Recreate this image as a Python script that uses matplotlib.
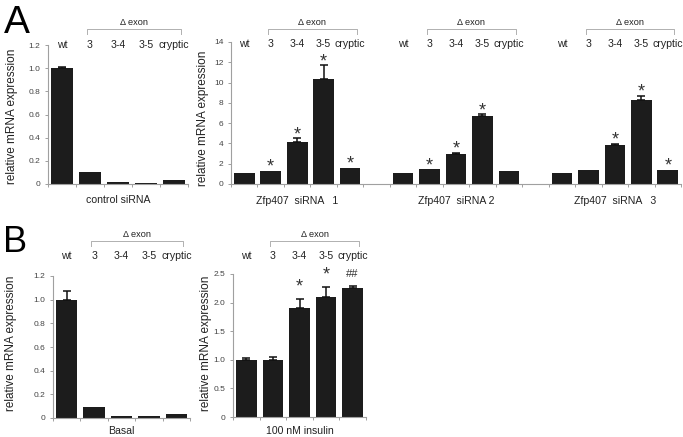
import numpy as np
import matplotlib
matplotlib.use('Agg')
import matplotlib.pyplot as plt
import matplotlib.transforms as mtrans

plt.rcParams['font.family'] = ['Liberation Sans', 'DejaVu Sans']

# figure size in pixels
W, H = 683, 437

# category names
cats = ['wt', '3', '3-4', '3-5', 'cryptic']

# panel A values
ctrl_vals = [1.0, 0.105, 0.015, 0.01, 0.035]
ctrl_err = [0.01, 0, 0, 0, 0]
si1_vals = [1.05, 1.3, 4.15, 10.4, 1.55]
si1_err = [0, 0, 0.35, 1.3, 0]
si2_vals = [1.05, 1.45, 3.0, 6.7, 1.28]
si2_err = [0, 0, 0.1, 0.17, 0]
si3_vals = [1.1, 1.38, 3.8, 8.3, 1.38]
si3_err = [0, 0, 0.17, 0.35, 0]
si1_marks = ['', '*', '*', '*', '*']
si2_marks = ['', '*', '*', '*', '']
si3_marks = ['', '', '*', '*', '*']

# panel B values
basal_vals = [1.0, 0.095, 0.015, 0.015, 0.03]
basal_err = [0.07, 0, 0, 0, 0]
ins_vals = [1.0, 1.0, 1.9, 2.1, 2.25]
ins_err = [0.04, 0.05, 0.16, 0.17, 0.04]
ins_marks = ['', '', '*', '*', '##']

# y ticks
yt_small = [0, 0.2, 0.4, 0.6, 0.8, 1.0, 1.2]
yt_small_lab = ['0', '0.2', '0.4', '0.6', '0.8', '1.0', '1.2']
yt_big = [0, 2, 4, 6, 8, 10, 12, 14]
yt_ins = [0, 0.5, 1.0, 1.5, 2.0, 2.5]
yt_ins_lab = ['0', '0.5', '1.0', '1.5', '2.0', '2.5']

BAR = '#1c1c1c'
AXC = '#a0a0a0'
TXT = '#222222'

fig = plt.figure(figsize=(W / 100, H / 100), dpi=100)


def make_ax(x0, x1, ytop, ybot):
    return fig.add_axes([x0 / W, 1 - ybot / H, (x1 - x0) / W, (ybot - ytop) / H])


def style_ax(ax, nslots, yticks, ylabels, ymax):
    ax.set_xlim(-0.5, nslots - 0.5)
    ax.set_ylim(0, ymax)
    for s in ['top', 'right']:
        ax.spines[s].set_visible(False)
    for s in ['left', 'bottom']:
        ax.spines[s].set_color(AXC)
        ax.spines[s].set_linewidth(0.8)
    ax.set_yticks(yticks)
    ax.set_yticklabels(ylabels)
    ax.set_xticks([])
    ax.set_xticks(np.arange(-0.5, nslots, 1), minor=True)
    ax.tick_params(axis='y', length=2.5, width=0.7, color=AXC, labelsize=6,
                   labelcolor='#444444', pad=3)
    ax.tick_params(axis='x', which='minor', length=2.5, width=0.7, color=AXC)


def draw_group(ax, off, vals, errs, marks, mark_off, hdr_y, br_y, label, lab_y):
    x = np.arange(len(vals)) + off
    ax.bar(x, vals, width=0.78, color=BAR, zorder=2)
    errs = np.array(errs)
    m = errs > 0
    if m.any():
        ax.errorbar(x[m], np.array(vals)[m], yerr=[np.zeros(m.sum()), errs[m]],
                    fmt='none', ecolor='#111111', elinewidth=1.1, capsize=3,
                    capthick=1.1, zorder=3)
    if marks is not None:
        for xi, v, e, s in zip(x, vals, errs, marks):
            if s:
                fs = 13 if s == '*' else 8
                off_pt = mark_off if s == '*' else mark_off + 1
                ax.annotate(s, (xi, v + e), xytext=(0, off_pt), textcoords='offset points',
                            ha='center', va='baseline', fontsize=fs, color='#333333',
                            annotation_clip=False)
    tr = mtrans.blended_transform_factory(ax.transData, fig.transFigure)
    for xi, c in zip(x, cats):
        ax.text(xi, 1 - hdr_y / H, c, transform=tr, ha='center', va='center',
                fontsize=7.6, color=TXT)
    # delta exon bracket
    bx0, bx1 = off + 0.9, off + 4.25
    yb = 1 - br_y / H
    ytk = 1 - (br_y + 5) / H
    ax.plot([bx0, bx0, bx1, bx1], [ytk, yb, yb, ytk], transform=tr, color='#b0b0b0',
            lw=0.7, clip_on=False)
    ax.text((bx0 + bx1) / 2, 1 - (br_y - 6.5) / H, '\u0394 exon', transform=tr,
            ha='center', va='center', fontsize=6.6, color=TXT)
    ax.text(off + 2, 1 - lab_y / H, label, transform=tr, ha='center', va='center',
            fontsize=7.6, color=TXT)


# ---- panel A ----
axA1 = make_ax(48, 188, 45, 184)
style_ax(axA1, 5, yt_small, yt_small_lab, 1.2)
draw_group(axA1, 0, ctrl_vals, ctrl_err, None, 0, 45, 29, 'control siRNA', 200)

axA2 = make_ax(231, 681, 42, 184)
style_ax(axA2, 17, yt_big, [str(t) for t in yt_big], 14)
draw_group(axA2, 0, si1_vals, si1_err, si1_marks, -0.5, 44, 29, 'Zfp407  siRNA   1', 201)
draw_group(axA2, 6, si2_vals, si2_err, si2_marks, -0.5, 44, 29, 'Zfp407  siRNA 2', 201)
draw_group(axA2, 12, si3_vals, si3_err, si3_marks, -0.5, 44, 29, 'Zfp407  siRNA   3', 201)

# ---- panel B ----
axB1 = make_ax(53, 190, 276, 418)
style_ax(axB1, 5, yt_small, yt_small_lab, 1.2)
draw_group(axB1, 0, basal_vals, basal_err, None, 0, 256, 241, 'Basal', 431)

axB2 = make_ax(233, 366, 274, 417)
style_ax(axB2, 5, yt_ins, yt_ins_lab, 2.5)
draw_group(axB2, 0, ins_vals, ins_err, ins_marks, 5.5, 256, 241, '100 nM insulin', 431)

# y labels
for xp, yp in [(12, 116), (203, 118), (11, 343), (206, 343)]:
    fig.text(xp / W, 1 - yp / H, 'relative mRNA expression', rotation=90,
             ha='center', va='center', fontsize=8.5, color=TXT)

# panel letters
fig.text(4 / W, 1 - 33 / H, 'A', fontsize=28, ha='left', va='baseline', color='black')
fig.text(3 / W, 1 - 252 / H, 'B', fontsize=26, ha='left', va='baseline', color='black')

fig.savefig('out.png', dpi=100)
